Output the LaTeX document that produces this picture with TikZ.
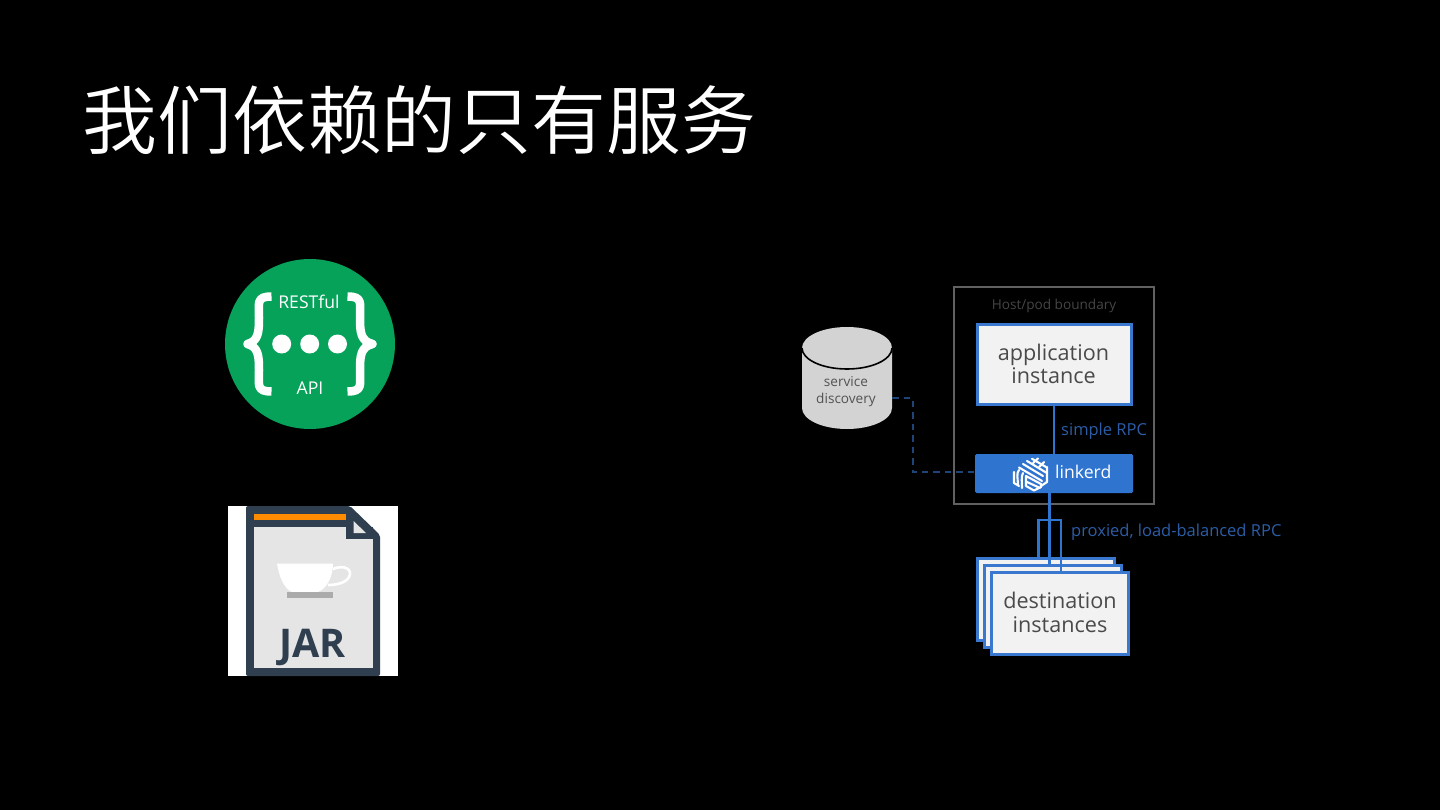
\documentclass[tikz,border=0pt]{standalone}
\usepackage{fontspec}
\setmainfont{Open Sans}
\newfontfamily\cjk{Noto Sans CJK SC DemiLight}
\newcommand{\fsz}[1]{\fontsize{#1}{#1}\selectfont}
\definecolor{bluebox}{HTML}{2F74CF}
\definecolor{blueedge}{HTML}{3A78D0}
\definecolor{bluetext}{HTML}{2C5DA6}
\definecolor{dashblue}{HTML}{1F4478}
\definecolor{boxfill}{HTML}{F2F2F2}
\definecolor{boxtext}{HTML}{4A4A4A}
\definecolor{greenapi}{HTML}{07A25A}
\definecolor{slatejar}{HTML}{2F3F4F}
\definecolor{cylfill}{HTML}{D3D3D3}
\tikzset{
  x=1pt,y=-1pt,
  inst/.style={draw=blueedge,line width=3pt,fill=boxfill,rectangle,inner sep=0pt,align=center,text=boxtext,font=\fsz{21.6}},
  insttext/.style={inner sep=0pt,align=center,text=boxtext,font=\fsz{21.6}},
  wire/.style={draw=bluebox,line width=2.7pt},
  lab/.style={text=bluetext,font=\fsz{16.5},inner sep=0pt,anchor=west},
  brace/.style={draw=white,line width=8.5pt,line join=round},
  logo/.style={draw=white,line width=2.1pt,line cap=round,line join=round},
}
\begin{document}
\begin{tikzpicture}
\fill[black] (0,0) rectangle (1440,810);
\useasboundingbox (0,0) rectangle (1440,810);

% title
\node[anchor=west,text=white,inner sep=0pt,font=\cjk\fsz{74.8}] (title) at (82.5,120.5) {我们依赖的只有服务};

% REST badge
\node[circle,fill=greenapi,minimum size=170pt,inner sep=0pt] (api) at (310,344) {};
\draw[brace] (271.5,296.5) .. controls (256,296.5) and (259,303) .. (259,318) .. controls (259,333) and (258,341) .. (247.5,344) .. controls (258,347) and (259,355) .. (259,370) .. controls (259,385) and (256,391.5) .. (271.5,391.5);
\draw[brace] (347.5,296.5) .. controls (363,296.5) and (360,303) .. (360,318) .. controls (360,333) and (361,341) .. (372.5,344) .. controls (361,347) and (360,355) .. (360,370) .. controls (360,385) and (363,391.5) .. (347.5,391.5);
\foreach \i/\px in {1/281.7,2/309.7,3/337.5}{
  \node[circle,fill=white,minimum size=19pt,inner sep=0pt] (dot\i) at (\px,344) {};
}
\node[text=white,inner sep=0pt,font=\fsz{17.6}] (rest) at (309,302) {RESTful};
\node[text=white,inner sep=0pt,font=\fsz{17.6}] (apitxt) at (310,388) {API};

% JAR icon
\fill[white] (228,506) rectangle (398,676);
\path[fill=slatejar,rounded corners=2pt] (246,506) -- (350,506) -- (380,535) -- (380,676) -- (246,676) -- cycle;
\fill[black!10] (253.5,527) rectangle (373,668);
\fill[slatejar] (346,527) rectangle (373,539);
\fill[black!10] (353.5,521) -- (366,533) -- (353.5,533) -- cycle;
\fill[orange!90!yellow] (253.5,514.3) rectangle (346,520);
\fill[white] (277,563.5) -- (333,563.5) .. controls (333,575) and (328,588) .. (318,592) -- (292,592) .. controls (283,588) and (279,575) .. (277,563.5) -- cycle;
\draw[white,line width=2.6pt] (333,569) .. controls (345,564) and (353,570) .. (349,577) .. controls (346,583) and (336,585) .. (328,585);
\fill[black!33] (287,592.3) rectangle (333,598);
\node[text=slatejar,inner sep=0pt,font=\bfseries\fsz{39.5}] (jar) at (312.5,647) {JAR};

% host boundary
\node[draw=black!62!white,line width=2pt,minimum width=200.5pt,minimum height=217.5pt,inner sep=0pt] (host) at (1054,395.5) {};
\node[text=black!73!white,inner sep=0pt,font=\fsz{13.6}] (hostlab) at (1054,305.5) {Host/pod boundary};

% application
\node[inst,minimum width=154pt,minimum height=80pt] (app) at (1054,364) {};
\node[insttext] (apptxt) at (1053.5,364) {application\\[2pt]instance};

% linkerd
\node[fill=bluebox,rounded corners=1.5pt,minimum width=158pt,minimum height=39pt,inner sep=0pt] (link) at (1054,473.5) {};
\node[text=white,inner sep=0pt,anchor=west,font=\fsz{17.6}] (linktxt) at (1055,472) {linkerd};
\draw[logo] (1023,464) -- (1043,476) (1027,461) -- (1046,472.5) (1032,458.8) -- (1046,467) (1019,467.5) -- (1042,481);
\draw[logo] (1038,458.5) -- (1033,463) (1044,462) -- (1039,467);
\draw[logo] (1014,472) -- (1014,483) -- (1019,486) (1019,470) .. controls (1016,473) and (1018,480) .. (1018,485) (1023,473) .. controls (1021,476) and (1022,483) .. (1022,488);
\draw[logo] (1026,476) -- (1041,484) -- (1041,487) -- (1034,490.5) -- (1026,486) -- cycle (1027,482) -- (1040,488);
\draw[logo] (1047,467) -- (1047,482) -- (1041,486);

% service discovery
\path[fill=cylfill] (802,348) arc[start angle=180,end angle=0,x radius=45pt,y radius=21pt] -- (892,408) arc[start angle=0,end angle=-180,x radius=45pt,y radius=21pt] -- cycle;
\node[inner sep=0pt,minimum width=90pt,minimum height=102pt] (disc) at (847,378) {};
\node[inner sep=0pt,align=center,text=black!68,font=\fsz{13.6}] (disctxt) at (846,392) {service\\[3.4pt]discovery};
\draw[black,line width=1.6pt] (802,348) arc[start angle=180,end angle=360,x radius=45pt,y radius=21pt];

% destination stack
\node[inst,minimum width=137pt,minimum height=82pt] (d1) at (1046,599.3) {};
\node[inst,minimum width=137pt,minimum height=82pt] (d2) at (1053,606.5) {};
\node[inst,minimum width=137pt,minimum height=82pt] (d3) at (1060,613.5) {};
\node[insttext] (d3txt) at (1060,612.5) {destination\\[2pt]instances};

% connector ends
\coordinate (midtop) at (1049.7,520);
\coordinate (ltop) at (1038.7,520);
\coordinate (rtop) at (1061,520);
\coordinate (lend) at (1038.7,557);
\coordinate (mend) at (1049.7,563.5);
\coordinate (rend) at (1061,571);
\coordinate (dash1) at (912.5,398);
\coordinate (dash2) at (912.5,472);

% connectors
\draw[wire] (app.south) -- (link.north);
\draw[wire] (link.south -| midtop) -- (mend);
\draw[wire] (lend) -- (ltop) -- (rtop) -- (rend);
\draw[draw=dashblue,line width=2pt,dash pattern=on 6.5pt off 5pt] (disc.east |- dash1) -- (dash1) -- (dash2) -- (link.west |- dash2);

% labels
\node[lab] (simple) at (1061,431) {simple RPC};
\node[lab] (prox) at (1071,532.5) {proxied, load-balanced RPC};
\end{tikzpicture}
\end{document}
